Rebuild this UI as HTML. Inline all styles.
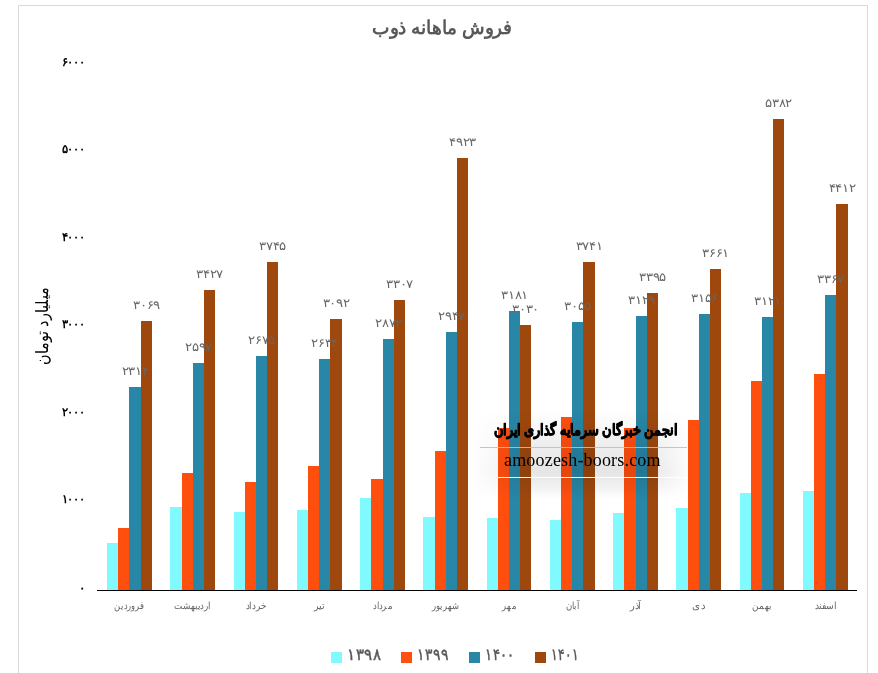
<!DOCTYPE html>
<html lang="fa">
<head>
<meta charset="utf-8">
<title>فروش ماهانه ذوب</title>
<style>
html,body{margin:0;padding:0;background:#fff;}
body{width:878px;height:673px;overflow:hidden;font-family:"Liberation Sans",sans-serif;}
svg{display:block;will-change:transform;}
text{font-family:"Liberation Sans",sans-serif;}
.t{font-weight:bold;fill:#595959;font-size:19px;}
.yl{font-weight:bold;fill:#000;font-size:12px;}
.yt{fill:#000;font-size:16.5px;}
.dl{fill:#666;font-size:12px;}
.xl{fill:#666;font-size:10px;}
.lg{fill:#595959;stroke:#595959;stroke-width:0.45px;font-size:16px;}
.wm1{font-family:"Liberation Serif",serif;font-weight:bold;fill:#000;stroke:#000;stroke-width:0.9px;stroke-linejoin:round;font-size:15px;}
.wm2{font-family:"Liberation Serif",serif;fill:#000;font-size:18px;}
</style>
</head>
<body>
<svg width="878" height="673" viewBox="0 0 878 673">
<defs>
<linearGradient id="glowv" x1="0" y1="0" x2="0" y2="1">
<stop offset="0" stop-color="#000" stop-opacity="0"/>
<stop offset="0.22" stop-color="#000" stop-opacity="0.035"/>
<stop offset="0.41" stop-color="#000" stop-opacity="0.07"/>
<stop offset="0.69" stop-color="#000" stop-opacity="0.10"/>
<stop offset="0.83" stop-color="#000" stop-opacity="0.06"/>
<stop offset="1" stop-color="#000" stop-opacity="0"/>
</linearGradient>
<linearGradient id="glowh" x1="0" y1="0" x2="1" y2="0">
<stop offset="0" stop-color="#fff" stop-opacity="0"/>
<stop offset="0.12" stop-color="#fff" stop-opacity="0.4"/>
<stop offset="0.27" stop-color="#fff" stop-opacity="1"/>
<stop offset="0.80" stop-color="#fff" stop-opacity="1"/>
<stop offset="0.92" stop-color="#fff" stop-opacity="0.4"/>
<stop offset="1" stop-color="#fff" stop-opacity="0"/>
</linearGradient>
<mask id="glowm" maskUnits="userSpaceOnUse" x="470" y="410" width="224" height="90">
<rect x="470" y="410" width="224" height="90" fill="url(#glowh)"/>
</mask>
</defs>
<rect x="0" y="0" width="878" height="673" fill="#fff"/>
<path d="M18.5 673V5.5H867.5V673" fill="none" stroke="#D9D9D9" stroke-width="1"/>
<text class="t" x="442" y="34" text-anchor="middle" textLength="140" lengthAdjust="spacingAndGlyphs">فروش ماهانه ذوب</text>
<text class="yl" x="84.5" y="591.5" text-anchor="end">۰</text>
<text class="yl" x="84.5" y="503.0" text-anchor="end" textLength="23" lengthAdjust="spacingAndGlyphs">۱۰۰۰</text>
<text class="yl" x="84.5" y="415.5" text-anchor="end" textLength="23" lengthAdjust="spacingAndGlyphs">۲۰۰۰</text>
<text class="yl" x="84.5" y="328.0" text-anchor="end" textLength="23" lengthAdjust="spacingAndGlyphs">۳۰۰۰</text>
<text class="yl" x="84.5" y="240.5" text-anchor="end" textLength="23" lengthAdjust="spacingAndGlyphs">۴۰۰۰</text>
<text class="yl" x="84.5" y="153.0" text-anchor="end" textLength="23" lengthAdjust="spacingAndGlyphs">۵۰۰۰</text>
<text class="yl" x="84.5" y="65.5" text-anchor="end" textLength="23" lengthAdjust="spacingAndGlyphs">۶۰۰۰</text>
<text class="yt" transform="translate(47.5 326) rotate(-90)" text-anchor="middle" textLength="77" lengthAdjust="spacingAndGlyphs">میلیارد تومان</text>
<g shape-rendering="crispEdges">
<rect x="107" y="543" width="11" height="47" fill="#80F9FF"/>
<rect x="118" y="528" width="11" height="62" fill="#FF4F0F"/>
<rect x="129" y="387" width="12" height="203" fill="#2886A6"/>
<rect x="141" y="321" width="11" height="269" fill="#9E480E"/>
<rect x="170" y="507" width="12" height="83" fill="#80F9FF"/>
<rect x="182" y="473" width="11" height="117" fill="#FF4F0F"/>
<rect x="193" y="363" width="11" height="227" fill="#2886A6"/>
<rect x="204" y="290" width="11" height="300" fill="#9E480E"/>
<rect x="234" y="512" width="11" height="78" fill="#80F9FF"/>
<rect x="245" y="482" width="11" height="108" fill="#FF4F0F"/>
<rect x="256" y="356" width="11" height="234" fill="#2886A6"/>
<rect x="267" y="262" width="11" height="328" fill="#9E480E"/>
<rect x="297" y="510" width="11" height="80" fill="#80F9FF"/>
<rect x="308" y="466" width="11" height="124" fill="#FF4F0F"/>
<rect x="319" y="359" width="11" height="231" fill="#2886A6"/>
<rect x="330" y="319" width="12" height="271" fill="#9E480E"/>
<rect x="360" y="498" width="11" height="92" fill="#80F9FF"/>
<rect x="371" y="479" width="12" height="111" fill="#FF4F0F"/>
<rect x="383" y="339" width="11" height="251" fill="#2886A6"/>
<rect x="394" y="300" width="11" height="290" fill="#9E480E"/>
<rect x="423" y="517" width="12" height="73" fill="#80F9FF"/>
<rect x="435" y="451" width="11" height="139" fill="#FF4F0F"/>
<rect x="446" y="332" width="11" height="258" fill="#2886A6"/>
<rect x="457" y="158" width="11" height="432" fill="#9E480E"/>
<rect x="487" y="518" width="11" height="72" fill="#80F9FF"/>
<rect x="498" y="428" width="11" height="162" fill="#FF4F0F"/>
<rect x="509" y="311" width="11" height="279" fill="#2886A6"/>
<rect x="520" y="325" width="11" height="265" fill="#9E480E"/>
<rect x="550" y="520" width="11" height="70" fill="#80F9FF"/>
<rect x="561" y="417" width="11" height="173" fill="#FF4F0F"/>
<rect x="572" y="322" width="11" height="268" fill="#2886A6"/>
<rect x="583" y="262" width="12" height="328" fill="#9E480E"/>
<rect x="613" y="513" width="11" height="77" fill="#80F9FF"/>
<rect x="624" y="428" width="12" height="162" fill="#FF4F0F"/>
<rect x="636" y="316" width="11" height="274" fill="#2886A6"/>
<rect x="647" y="293" width="11" height="297" fill="#9E480E"/>
<rect x="676" y="508" width="12" height="82" fill="#80F9FF"/>
<rect x="688" y="420" width="11" height="170" fill="#FF4F0F"/>
<rect x="699" y="314" width="11" height="276" fill="#2886A6"/>
<rect x="710" y="269" width="11" height="321" fill="#9E480E"/>
<rect x="740" y="493" width="11" height="97" fill="#80F9FF"/>
<rect x="751" y="381" width="11" height="209" fill="#FF4F0F"/>
<rect x="762" y="317" width="11" height="273" fill="#2886A6"/>
<rect x="773" y="119" width="11" height="471" fill="#9E480E"/>
<rect x="803" y="491" width="11" height="99" fill="#80F9FF"/>
<rect x="814" y="374" width="11" height="216" fill="#FF4F0F"/>
<rect x="825" y="295" width="11" height="295" fill="#2886A6"/>
<rect x="836" y="204" width="12" height="386" fill="#9E480E"/>
<rect x="97" y="590" width="760" height="1" fill="#000"/>
</g>
<text class="dl" x="135.0" y="375.0" text-anchor="middle" textLength="26.5" lengthAdjust="spacingAndGlyphs">۲۳۱۴</text>
<text class="dl" x="146.5" y="309.0" text-anchor="middle" textLength="26.5" lengthAdjust="spacingAndGlyphs">۳۰۶۹</text>
<text class="dl" x="198.5" y="351.0" text-anchor="middle" textLength="26.5" lengthAdjust="spacingAndGlyphs">۲۵۹۷</text>
<text class="dl" x="209.5" y="278.0" text-anchor="middle" textLength="26.5" lengthAdjust="spacingAndGlyphs">۳۴۲۷</text>
<text class="dl" x="261.5" y="344.0" text-anchor="middle" textLength="26.5" lengthAdjust="spacingAndGlyphs">۲۶۷۵</text>
<text class="dl" x="272.5" y="250.0" text-anchor="middle" textLength="26.5" lengthAdjust="spacingAndGlyphs">۳۷۴۵</text>
<text class="dl" x="324.5" y="347.0" text-anchor="middle" textLength="26.5" lengthAdjust="spacingAndGlyphs">۲۶۳۴</text>
<text class="dl" x="336.0" y="307.0" text-anchor="middle" textLength="26.5" lengthAdjust="spacingAndGlyphs">۳۰۹۲</text>
<text class="dl" x="388.5" y="327.0" text-anchor="middle" textLength="26.5" lengthAdjust="spacingAndGlyphs">۲۸۷۲</text>
<text class="dl" x="399.5" y="288.0" text-anchor="middle" textLength="26.5" lengthAdjust="spacingAndGlyphs">۳۳۰۷</text>
<text class="dl" x="451.5" y="320.0" text-anchor="middle" textLength="26.5" lengthAdjust="spacingAndGlyphs">۲۹۴۷</text>
<text class="dl" x="462.5" y="146.0" text-anchor="middle" textLength="26.5" lengthAdjust="spacingAndGlyphs">۴۹۲۳</text>
<text class="dl" x="514.5" y="299.0" text-anchor="middle" textLength="26.5" lengthAdjust="spacingAndGlyphs">۳۱۸۱</text>
<text class="dl" x="525.5" y="313.0" text-anchor="middle" textLength="26.5" lengthAdjust="spacingAndGlyphs">۳۰۳۰</text>
<text class="dl" x="577.5" y="310.0" text-anchor="middle" textLength="26.5" lengthAdjust="spacingAndGlyphs">۳۰۵۵</text>
<text class="dl" x="589.0" y="250.0" text-anchor="middle" textLength="26.5" lengthAdjust="spacingAndGlyphs">۳۷۴۱</text>
<text class="dl" x="641.5" y="304.0" text-anchor="middle" textLength="26.5" lengthAdjust="spacingAndGlyphs">۳۱۲۹</text>
<text class="dl" x="652.5" y="281.0" text-anchor="middle" textLength="26.5" lengthAdjust="spacingAndGlyphs">۳۳۹۵</text>
<text class="dl" x="704.5" y="302.0" text-anchor="middle" textLength="26.5" lengthAdjust="spacingAndGlyphs">۳۱۵۶</text>
<text class="dl" x="715.5" y="257.0" text-anchor="middle" textLength="26.5" lengthAdjust="spacingAndGlyphs">۳۶۶۱</text>
<text class="dl" x="767.5" y="305.0" text-anchor="middle" textLength="26.5" lengthAdjust="spacingAndGlyphs">۳۱۲۱</text>
<text class="dl" x="778.5" y="107.0" text-anchor="middle" textLength="26.5" lengthAdjust="spacingAndGlyphs">۵۳۸۲</text>
<text class="dl" x="830.5" y="283.0" text-anchor="middle" textLength="26.5" lengthAdjust="spacingAndGlyphs">۳۳۶۷</text>
<text class="dl" x="842.0" y="192.0" text-anchor="middle" textLength="26.5" lengthAdjust="spacingAndGlyphs">۴۴۱۲</text>
<text class="xl" x="129.5" y="609" text-anchor="middle" textLength="30.3" lengthAdjust="spacingAndGlyphs">فروردین</text>
<text class="xl" x="192.5" y="609" text-anchor="middle" textLength="36.8" lengthAdjust="spacingAndGlyphs">اردیبهشت</text>
<text class="xl" x="256.0" y="609" text-anchor="middle" textLength="20.5" lengthAdjust="spacingAndGlyphs">خرداد</text>
<text class="xl" x="319.5" y="609" text-anchor="middle" textLength="11.2" lengthAdjust="spacingAndGlyphs">تیر</text>
<text class="xl" x="382.5" y="609" text-anchor="middle" textLength="18.8" lengthAdjust="spacingAndGlyphs">مرداد</text>
<text class="xl" x="445.5" y="609" text-anchor="middle" textLength="26.8" lengthAdjust="spacingAndGlyphs">شهریور</text>
<text class="xl" x="509.0" y="609" text-anchor="middle" textLength="13.4" lengthAdjust="spacingAndGlyphs">مهر</text>
<text class="xl" x="572.5" y="609" text-anchor="middle" textLength="13.6" lengthAdjust="spacingAndGlyphs">آبان</text>
<text class="xl" x="635.5" y="609" text-anchor="middle" textLength="11.9" lengthAdjust="spacingAndGlyphs">آذر</text>
<text class="xl" x="698.5" y="609" text-anchor="middle" textLength="12.4" lengthAdjust="spacingAndGlyphs">دی</text>
<text class="xl" x="762.0" y="609" text-anchor="middle" textLength="19.5" lengthAdjust="spacingAndGlyphs">بهمن</text>
<text class="xl" x="825.5" y="609" text-anchor="middle" textLength="22" lengthAdjust="spacingAndGlyphs">اسفند</text>
<rect x="331" y="652" width="11" height="11" fill="#80F9FF" shape-rendering="crispEdges"/>
<text class="lg" x="347.3" y="659.5" textLength="33.9" lengthAdjust="spacingAndGlyphs">۱۳۹۸</text>
<rect x="401" y="652" width="11" height="11" fill="#FF4F0F" shape-rendering="crispEdges"/>
<text class="lg" x="417.4" y="659.5" textLength="31.1" lengthAdjust="spacingAndGlyphs">۱۳۹۹</text>
<rect x="469" y="652" width="11" height="11" fill="#2886A6" shape-rendering="crispEdges"/>
<text class="lg" x="485.2" y="659.5" textLength="29.6" lengthAdjust="spacingAndGlyphs">۱۴۰۰</text>
<rect x="535" y="652" width="11" height="11" fill="#9E480E" shape-rendering="crispEdges"/>
<text class="lg" x="551.4" y="659.5" textLength="27.6" lengthAdjust="spacingAndGlyphs">۱۴۰۱</text>
<rect x="470" y="410" width="224" height="90" fill="url(#glowv)" mask="url(#glowm)"/>
<rect x="480" y="447" width="207" height="1" fill="#BFBFBF" fill-opacity="0.9"/>
<rect x="498" y="477" width="189" height="1" fill="#fff" fill-opacity="0.95"/>
<text class="wm1" x="585.5" y="435" text-anchor="middle" textLength="183" lengthAdjust="spacingAndGlyphs">انجمن خبرگان سرمایه گذاری ایران</text>
<text class="wm2" x="504" y="465.5" textLength="156.5" lengthAdjust="spacing">amoozesh-boors.com</text>
</svg>
</body>
</html>
